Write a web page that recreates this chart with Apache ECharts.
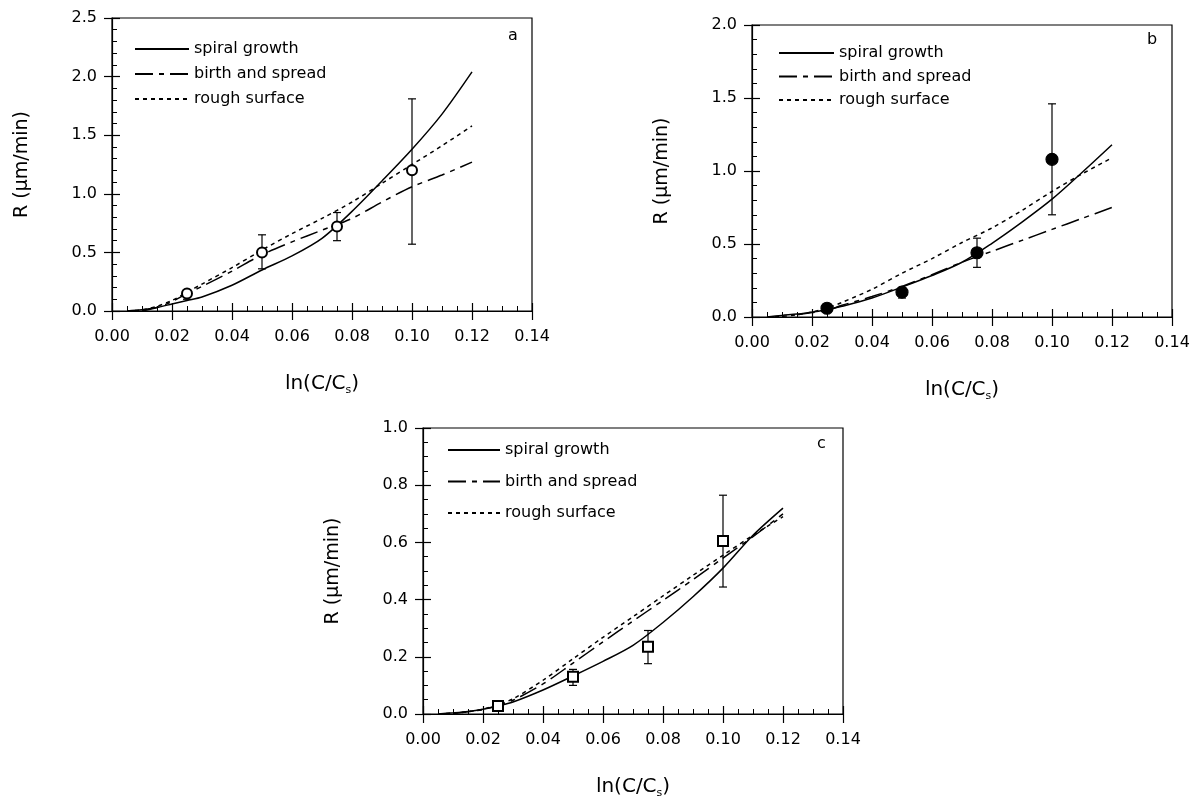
<!DOCTYPE html>
<html>
<head>
<meta charset="utf-8">
<script src="https://cdn.jsdelivr.net/npm/echarts@6/dist/echarts.min.js"></script>
<style>
  html, body { margin: 0; padding: 0; background: #fff; }
  #main { width: 1193px; height: 800px; }
</style>
</head>
<body>
<div id="main"></div>
<script>
// x positions of the fitted curves (ln(C/Cs))
var xFit = [0.005, 0.01, 0.015, 0.02, 0.025, 0.03, 0.04, 0.05, 0.06, 0.07, 0.08, 0.09, 0.10, 0.11, 0.12];

// panel a
var spiralA = [0, 0.01, 0.03, 0.06, 0.09, 0.12, 0.22, 0.35, 0.47, 0.62, 0.85, 1.11, 1.38, 1.68, 2.04];
var birthA  = [null, 0, 0.03, 0.08, 0.15, 0.21, 0.34, 0.48, 0.59, 0.69, 0.79, 0.93, 1.06, 1.16, 1.27];
var roughA  = [0, 0.01, 0.04, 0.09, 0.16, 0.23, 0.37, 0.52, 0.66, 0.79, 0.93, 1.09, 1.25, 1.41, 1.58];

// panel b
var spiralB = [0, 0.011, 0.02, 0.034, 0.05, 0.073, 0.13, 0.205, 0.284, 0.375, 0.505, 0.65, 0.807, 0.99, 1.18];
var birthB  = [null, null, 0.015, 0.03, 0.045, 0.08, 0.14, 0.21, 0.29, 0.375, 0.45, 0.525, 0.60, 0.675, 0.75];
var roughB  = [0, 0.005, 0.015, 0.034, 0.06, 0.10, 0.19, 0.30, 0.40, 0.51, 0.61, 0.73, 0.86, 0.98, 1.09];

// panel c
var spiralC = [0, 0.004, 0.009, 0.017, 0.028, 0.042, 0.084, 0.133, 0.184, 0.24, 0.32, 0.41, 0.51, 0.625, 0.72];
var birthC  = [null, 0.002, 0.008, 0.016, 0.03, 0.048, 0.105, 0.178, 0.252, 0.325, 0.397, 0.47, 0.545, 0.62, 0.70];
var roughC  = [0, 0.003, 0.008, 0.017, 0.033, 0.053, 0.118, 0.193, 0.268, 0.34, 0.413, 0.485, 0.555, 0.625, 0.69];

// measured points with error bars
var ptX = [0.025, 0.05, 0.075, 0.10];
var ptA = [0.15, 0.50, 0.72, 1.20], loA = [0.10, 0.36, 0.60, 0.57], hiA = [0.18, 0.65, 0.84, 1.81];
var ptB = [0.06, 0.17, 0.44, 1.08], loB = [0.04, 0.13, 0.34, 0.70], hiB = [0.08, 0.20, 0.54, 1.46];
var ptC = [0.028, 0.13, 0.235, 0.605], loC = [0.02, 0.10, 0.176, 0.444], hiC = [0.035, 0.156, 0.292, 0.765];

var legendNames = ['spiral growth', 'birth and spread', 'rough surface'];

var FONT = 'DejaVu Sans';
var BLACK = '#000';

function pairs(xs, ys) {
  var out = [];
  for (var i = 0; i < xs.length; i++) out.push([xs[i], ys[i]]);
  return out;
}
function bars(xs, lo, hi) {
  var out = [];
  for (var i = 0; i < xs.length; i++) out.push([xs[i], lo[i], hi[i]]);
  return out;
}

function errBar(params, api) {
  var x = api.value(0);
  var top = api.coord([x, api.value(2)]);
  var bot = api.coord([x, api.value(1)]);
  var w = 4;
  var st = { stroke: BLACK, lineWidth: 1.2 };
  return {
    type: 'group',
    children: [
      { type: 'line', shape: { x1: top[0], y1: top[1], x2: bot[0], y2: bot[1] }, style: st },
      { type: 'line', shape: { x1: top[0] - w, y1: top[1], x2: top[0] + w, y2: top[1] }, style: st },
      { type: 'line', shape: { x1: bot[0] - w, y1: bot[1], x2: bot[0] + w, y2: bot[1] }, style: st }
    ]
  };
}

var panels = [
  { grid: { left: 112, top: 18, width: 420, height: 293 }, ymax: 2.5, yint: 0.5, ysplit: 5,
    spiral: spiralA, birth: birthA, rough: roughA, pt: ptA, lo: loA, hi: hiA,
    symbol: 'emptyCircle', size: 10,
    legend: { left: 134, top: 41, itemWidth: 54, itemGap: 9 },
    letter: { text: 'a', left: 508, top: 28 } },
  { grid: { left: 752, top: 25, width: 420, height: 292 }, ymax: 2.0, yint: 0.5, ysplit: 5,
    spiral: spiralB, birth: birthB, rough: roughB, pt: ptB, lo: loB, hi: hiB,
    symbol: 'circle', size: 12,
    legend: { left: 778, top: 45, itemWidth: 55, itemGap: 7.5 },
    letter: { text: 'b', left: 1147, top: 32 } },
  { grid: { left: 423, top: 428, width: 420, height: 293 }, ymax: 1.0, yint: 0.2, ysplit: 4,
    spiral: spiralC, birth: birthC, rough: roughC, pt: ptC, lo: loC, hi: hiC,
    symbol: 'emptyRect', size: 10,
    legend: { left: 447, top: 442, itemWidth: 52, itemGap: 15.5 },
    letter: { text: 'c', left: 817, top: 436 } }
];

var option = {
  animation: false,
  backgroundColor: '#fff',
  color: [BLACK],
  textStyle: { fontFamily: FONT, color: BLACK },
  grid: [], xAxis: [], yAxis: [], series: [], legend: [], title: []
};

panels.forEach(function (p, i) {
  option.grid.push(Object.assign({ show: true, borderColor: BLACK, borderWidth: 1.2, backgroundColor: 'transparent' }, p.grid));

  // main x axis: labels, inward ticks and minor ticks
  option.xAxis.push({
    type: 'value', gridIndex: i, position: 'bottom', min: 0, max: 0.14, interval: 0.02,
    axisLine: { onZero: false, lineStyle: { color: BLACK, width: 1.2 } },
    axisTick: { inside: true, length: 8, lineStyle: { color: BLACK, width: 1.2 } },
    minorTick: { show: true, splitNumber: 4, length: 5, lineStyle: { color: BLACK, width: 1 } },
    splitLine: { show: false },
    axisLabel: { margin: 18, fontSize: 16, color: BLACK, fontFamily: FONT,
      formatter: function (v) { return v.toFixed(2); } },
    name: 'ln(C/C{s|s})', nameLocation: 'middle', nameGap: 60,
    nameTextStyle: { fontSize: 20, color: BLACK, fontFamily: FONT,
      rich: { s: { fontSize: 11, fontFamily: FONT, color: BLACK, padding: [14, 0, 0, 0] } } }
  });
  // second x axis only for the outward half of the major ticks
  option.xAxis.push({
    type: 'value', gridIndex: i, position: 'bottom', min: 0, max: 0.14, interval: 0.02,
    axisLine: { show: false, onZero: false },
    axisTick: { inside: false, length: 9, lineStyle: { color: BLACK, width: 1.2 } },
    splitLine: { show: false }, axisLabel: { show: false }
  });

  option.yAxis.push({
    type: 'value', gridIndex: i, position: 'left', min: 0, max: p.ymax, interval: p.yint,
    axisLine: { show: true, onZero: false, lineStyle: { color: BLACK, width: 1.2 } },
    axisTick: { show: true, inside: true, length: 8, lineStyle: { color: BLACK, width: 1.2 } },
    minorTick: { show: true, splitNumber: p.ysplit, length: 5, lineStyle: { color: BLACK, width: 1 } },
    splitLine: { show: false },
    axisLabel: { margin: 15, fontSize: 16, color: BLACK, fontFamily: FONT,
      formatter: function (v) { return v.toFixed(1); } },
    name: 'R (\u03bcm/min)', nameLocation: 'middle', nameGap: 80,
    nameTextStyle: { fontSize: 19, color: BLACK, fontFamily: FONT }
  });
  option.yAxis.push({
    type: 'value', gridIndex: i, position: 'left', min: 0, max: p.ymax, interval: p.yint,
    axisLine: { show: false, onZero: false },
    axisTick: { show: true, inside: false, length: 8, lineStyle: { color: BLACK, width: 1.2 } },
    splitLine: { show: false }, axisLabel: { show: false }
  });

  var xi = i * 2, yi = i * 2;
  option.series.push({
    name: 'spiral growth', type: 'line', xAxisIndex: xi, yAxisIndex: yi,
    data: pairs(xFit, p.spiral), symbol: 'none', smooth: 0.3, color: BLACK,
    lineStyle: { color: BLACK, width: 1.5, type: 'solid' }, z: 3
  });
  option.series.push({
    name: 'birth and spread', type: 'line', xAxisIndex: xi, yAxisIndex: yi,
    data: pairs(xFit, p.birth), symbol: 'none', smooth: 0.3, color: BLACK,
    lineStyle: { color: BLACK, width: 1.5, type: [18, 6, 5, 6] }, z: 3
  });
  option.series.push({
    name: 'rough surface', type: 'line', xAxisIndex: xi, yAxisIndex: yi,
    data: pairs(xFit, p.rough), symbol: 'none', smooth: 0.3, color: BLACK,
    lineStyle: { color: BLACK, width: 1.5, type: [4, 4] }, z: 3
  });
  option.series.push({
    name: 'err' + i, type: 'custom', xAxisIndex: xi, yAxisIndex: yi,
    data: bars(ptX, p.lo, p.hi), renderItem: errBar, encode: { x: 0, y: [1, 2] }, z: 4
  });
  option.series.push({
    name: 'data' + i, type: 'scatter', xAxisIndex: xi, yAxisIndex: yi,
    data: pairs(ptX, p.pt), symbol: p.symbol, symbolSize: p.size,
    itemStyle: { color: BLACK, borderColor: BLACK, borderWidth: 1.2, opacity: 1 }, z: 5
  });

  option.legend.push({
    orient: 'vertical', left: p.legend.left, top: p.legend.top, padding: 0,
    itemWidth: p.legend.itemWidth, itemHeight: 14, itemGap: p.legend.itemGap,
    selectedMode: false, data: legendNames,
    itemStyle: { color: 'rgba(0,0,0,0)', borderWidth: 0, opacity: 0 },
    textStyle: { fontSize: 16, color: BLACK, fontFamily: FONT, lineHeight: 14 }
  });

  option.title.push({
    text: p.letter.text, left: p.letter.left, top: p.letter.top, padding: 0,
    textStyle: { fontSize: 16, fontWeight: 'normal', color: BLACK, fontFamily: FONT }
  });
});

var chart = echarts.init(document.getElementById('main'), null, { renderer: 'canvas' });
chart.setOption(option);
</script>
</body>
</html>
